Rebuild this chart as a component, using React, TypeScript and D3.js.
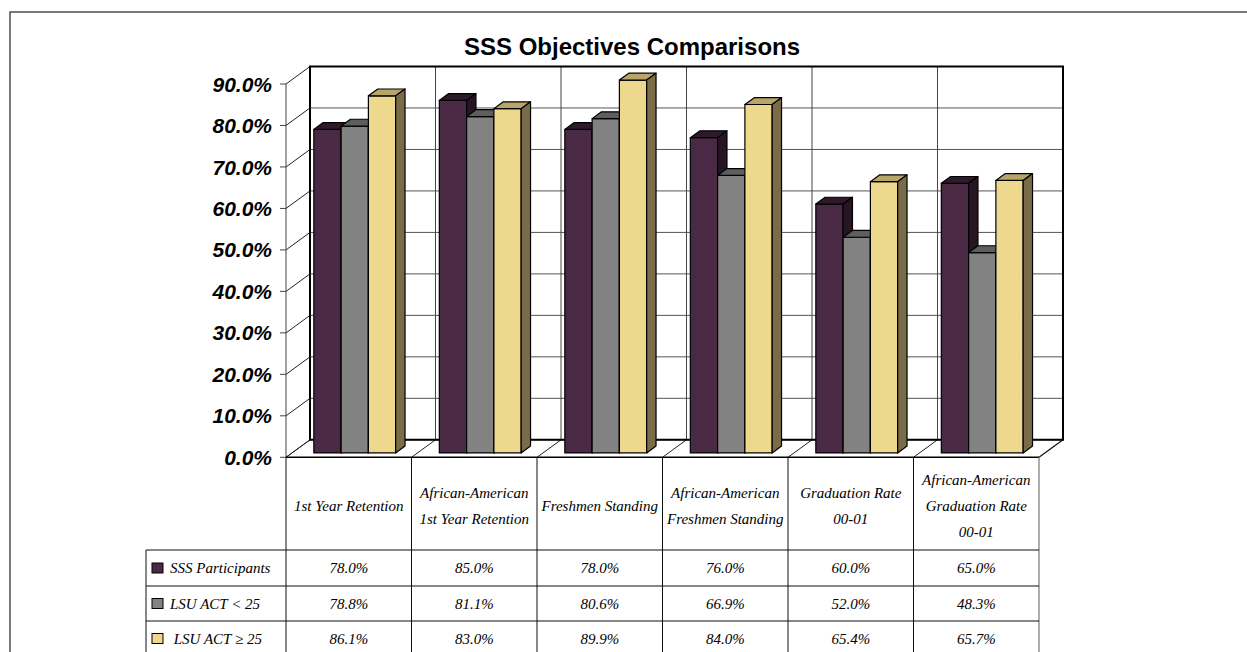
import React from "react";
import * as d3 from "d3";

const categories: string[][] = [
  ["1st Year Retention"],
  ["African-American", "1st Year Retention"],
  ["Freshmen Standing"],
  ["African-American", "Freshmen Standing"],
  ["Graduation Rate", "00-01"],
  ["African-American", "Graduation Rate", "00-01"],
];
const seriesNames = ["SSS Participants", "LSU ACT < 25", " LSU ACT \u2265 25"];
const sssParticipants = [0.78, 0.85, 0.78, 0.76, 0.6, 0.65];
const lsuActBelow25 = [0.788, 0.811, 0.806, 0.669, 0.52, 0.483];
const lsuActAbove25 = [0.861, 0.83, 0.899, 0.84, 0.654, 0.657];
const yTicks = [0, 0.1, 0.2, 0.3, 0.4, 0.5, 0.6, 0.7, 0.8, 0.9];

const seriesValues = [sssParticipants, lsuActBelow25, lsuActAbove25];
const colors = [
  { front: "#4a2944", top: "#2f1a2b", side: "#281523" },
  { front: "#828282", top: "#5e5e5e", side: "#4e4e4e" },
  { front: "#eed88e", top: "#b9a56a", side: "#7a6c48" },
];

export default function App() {
  const W = 1247;
  const H = 652;
  const x0 = 286;
  const x1 = 1039;
  const y0 = 457.3;
  const yTop = 84;
  const DX = 24;
  const DY = 17.5;
  const t1 = 0.25;
  const t2 = 0.64;

  const y = d3.scaleLinear().domain([0, 0.9]).range([y0, yTop]);
  const idx = categories.map((_, i) => String(i));
  const xb = d3.scaleBand().domain(idx).range([x0, x1]);
  const bw = xb.bandwidth();
  const sub = d3
    .scaleBand()
    .domain(seriesNames)
    .range([0, bw])
    .paddingInner(0)
    .paddingOuter(0.8);
  const w = sub.bandwidth();

  const headerBottom = 550;
  const rowYs = [550, 586, 621, 656];
  const labelLeft = 146;

  const bars: React.ReactNode[] = [];
  categories.forEach((_, ci) => {
    seriesValues.forEach((vals, si) => {
      const v = vals[ci];
      const xl = (xb(String(ci)) as number) + (sub(seriesNames[si]) as number) + DX * t1;
      const xr = xl + w;
      const yb = y(0) - DY * t1;
      const yt = y(v) - DY * t1;
      const ddx = DX * (t2 - t1);
      const ddy = DY * (t2 - t1);
      const c = colors[si];
      bars.push(
        <g key={`b${ci}-${si}`} stroke="#000" strokeWidth={1.2} strokeLinejoin="round">
          <rect x={xl} y={yt} width={w} height={yb - yt} fill={c.front} />
          <path
            d={`M${xl},${yt}L${xl + ddx},${yt - ddy}L${xr + ddx},${yt - ddy}L${xr},${yt}Z`}
            fill={c.top}
          />
          <path
            d={`M${xr},${yt}L${xr + ddx},${yt - ddy}L${xr + ddx},${yb - ddy}L${xr},${yb}Z`}
            fill={c.side}
          />
        </g>
      );
    });
  });

  const serif = "'Liberation Serif', 'DejaVu Serif', serif";
  const sans = "'Liberation Sans', Arial, sans-serif";

  return (
    <svg
      width={W}
      height={H}
      style={{ position: "absolute", left: 0, top: 0, background: "#fff" }}
    >
      <rect x={10} y={12} width={1400} height={800} fill="#fff" stroke="#333" strokeWidth={1.3} />
      <text
        x={632}
        y={55}
        textAnchor="middle"
        fontFamily={sans}
        fontWeight="bold"
        fontSize={24}
        fill="#000"
      >
        SSS Objectives Comparisons
      </text>

      {/* back wall gridlines */}
      {yTicks.map((t) => (
        <line
          key={`hg${t}`}
          x1={x0 + DX}
          x2={x1 + DX}
          y1={y(t) - DY}
          y2={y(t) - DY}
          stroke="#555"
          strokeWidth={1}
        />
      ))}
      {idx.slice(1).map((k) => (
        <line
          key={`vg${k}`}
          x1={(xb(k) as number) + DX}
          x2={(xb(k) as number) + DX}
          y1={y(0.9) - DY}
          y2={y(0) - DY}
          stroke="#444"
          strokeWidth={1}
        />
      ))}
      {/* side wall diagonals */}
      {yTicks.map((t) => (
        <line
          key={`sd${t}`}
          x1={x0}
          y1={y(t)}
          x2={x0 + DX}
          y2={y(t) - DY}
          stroke="#222"
          strokeWidth={1}
        />
      ))}
      {/* floor diagonals */}
      {idx.map((k) => (
        <line
          key={`fd${k}`}
          x1={xb(k) as number}
          y1={y(0)}
          x2={(xb(k) as number) + DX}
          y2={y(0) - DY}
          stroke="#222"
          strokeWidth={1}
        />
      ))}
      <line x1={x1} y1={y(0)} x2={x1 + DX} y2={y(0) - DY} stroke="#111" strokeWidth={1.2} />
      {/* back wall frame */}
      <path
        d={`M${x0 + DX},${y(0) - DY}L${x0 + DX},${y(0.9) - DY}L${x1 + DX},${y(0.9) - DY}L${x1 + DX},${y(0) - DY}Z`}
        fill="none"
        stroke="#000"
        strokeWidth={2}
      />
      {/* left axis */}
      <line x1={x0} x2={x0} y1={y(0.9)} y2={y(0)} stroke="#444" strokeWidth={1} />
      {yTicks.map((t) => (
        <g key={`yt${t}`}>
          <line x1={x0 - 6} x2={x0} y1={y(t)} y2={y(t)} stroke="#444" strokeWidth={1} />
          <text
            x={272}
            y={y(t)}
            dy="0.36em"
            textAnchor="end"
            fontFamily={sans}
            fontWeight="bold"
            fontStyle="italic"
            fontSize={21}
            fill="#000"
          >
            {d3.format(".1%")(t)}
          </text>
        </g>
      ))}

      {bars}

      {/* floor front edge */}
      <line x1={x0} x2={x1} y1={y(0)} y2={y(0)} stroke="#000" strokeWidth={1.5} />

      {/* table */}
      {idx.map((k) => (
        <line
          key={`tc${k}`}
          x1={xb(k) as number}
          x2={xb(k) as number}
          y1={y(0)}
          y2={H}
          stroke="#111"
          strokeWidth={1}
        />
      ))}
      <line x1={x1} x2={x1} y1={y(0)} y2={H} stroke="#777" strokeWidth={1.2} />
      <line x1={labelLeft} x2={labelLeft} y1={headerBottom} y2={H} stroke="#111" strokeWidth={1} />
      {rowYs.slice(0, 3).map((ry) => (
        <line key={`tr${ry}`} x1={labelLeft} x2={x1} y1={ry} y2={ry} stroke="#111" strokeWidth={1} />
      ))}
      {categories.map((lines, ci) => {
        const cx = (xb(String(ci)) as number) + bw / 2;
        const midY = (y(0) + headerBottom) / 2 + 2;
        const lh = 26;
        const startY = midY - ((lines.length - 1) * lh) / 2;
        return (
          <text
            key={`cl${ci}`}
            textAnchor="middle"
            fontFamily={serif}
            fontStyle="italic"
            fontSize={15}
            fill="#000"
          >
            {lines.map((ln, li) => (
              <tspan key={li} x={cx} y={startY + li * lh} dy="0.35em">
                {ln}
              </tspan>
            ))}
          </text>
        );
      })}
      {seriesValues.map((vals, si) => {
        const cy = (rowYs[si] + rowYs[si + 1]) / 2;
        return (
          <g key={`row${si}`}>
            <rect
              x={152}
              y={cy - 5}
              width={11}
              height={10}
              fill={colors[si].front}
              stroke="#000"
              strokeWidth={1}
            />
            <text
              x={170}
              y={cy}
              dy="0.35em"
              fontFamily={serif}
              fontStyle="italic"
              fontSize={15}
              fill="#000"
              style={{ whiteSpace: "pre" }}
            >
              {seriesNames[si]}
            </text>
            {vals.map((v, ci) => (
              <text
                key={ci}
                x={(xb(String(ci)) as number) + bw / 2}
                y={cy}
                dy="0.35em"
                textAnchor="middle"
                fontFamily={serif}
                fontStyle="italic"
                fontSize={15}
                fill="#000"
              >
                {d3.format(".1%")(v)}
              </text>
            ))}
          </g>
        );
      })}
    </svg>
  );
}
